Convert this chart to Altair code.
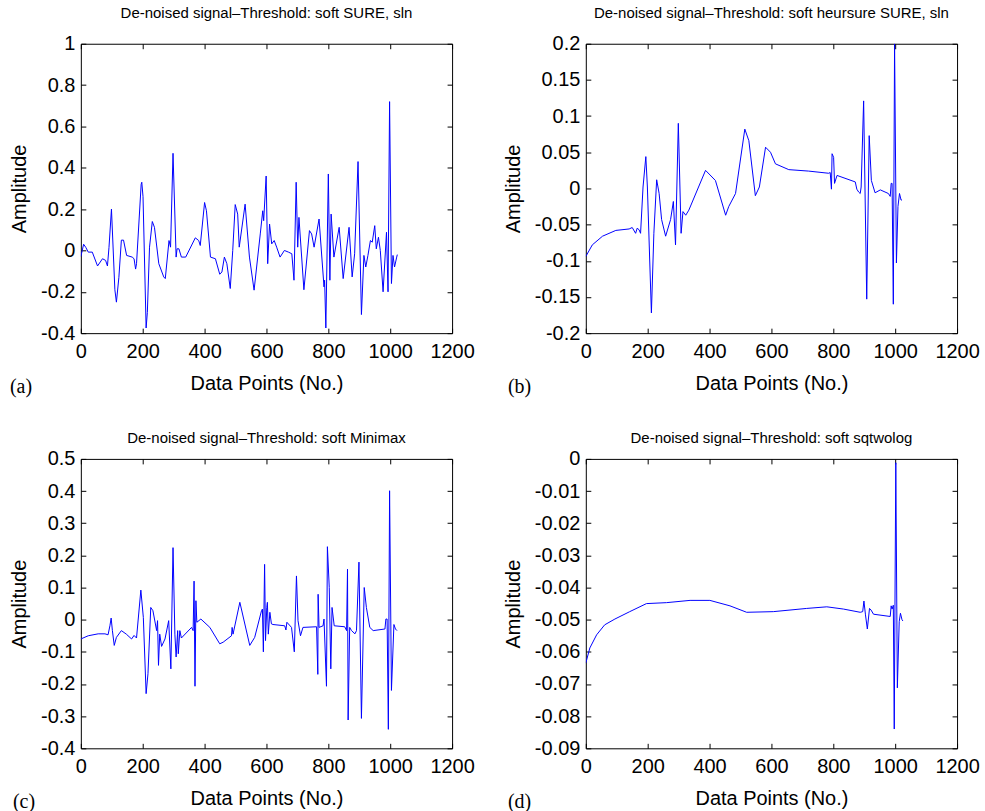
import altair as alt
import pandas as pd

# ---------------- data ----------------
a_x = [0, 9, 16, 24, 37, 54, 70, 80, 86, 91, 99, 110, 115, 123, 131, 138, 148, 166, 172, 177,
       180, 195, 197, 201, 211, 215, 222, 231, 238, 252, 268, 273, 285, 290, 298, 308, 311, 317,
       325, 339, 370, 381, 386, 400, 406, 419, 435, 449, 456, 464, 472, 483, 491, 499, 507, 512,
       531, 545, 560, 580, 588, 591, 599, 604, 610, 617, 625, 633, 644, 658, 671, 682, 689, 696,
       701, 705, 721, 739, 746, 754, 770, 786, 788, 792, 800, 805, 809, 818, 835, 848, 867, 877,
       885, 896, 907, 915, 921, 928, 936, 942, 950, 955, 962, 968, 977, 988, 993, 998, 1004,
       1009, 1014, 1021, 1023]
a_y = [-0.03, 0.03, 0.015, -0.008, -0.008, -0.075, -0.04, -0.048, -0.075, 0.015, 0.2, -0.19,
       -0.25, -0.13, 0.05, 0.05, -0.024, -0.032, -0.04, -0.09, -0.064, 0.32, 0.33, 0.26, -0.375,
       -0.3, 0.016, 0.14, 0.112, -0.064, -0.128, -0.136, 0.048, 0.016, 0.47, -0.032, 0.008, 0.008,
       -0.032, -0.032, 0.061, 0.048, 0.024, 0.232, 0.192, -0.032, -0.04, -0.115, -0.104, -0.032,
       -0.064, -0.184, 0.0, 0.222, 0.176, 0.016, 0.224, -0.032, -0.192, 0.08, 0.192, 0.144, 0.36,
       -0.064, 0.128, 0.032, 0.048, 0.016, -0.032, 0.0, -0.008, -0.016, -0.144, 0.33, 0.016, 0.16,
       -0.19, 0.096, 0.08, 0.016, 0.152, -0.176, -0.144, -0.375, 0.37, -0.144, 0.176, -0.032,
       0.112, -0.136, 0.112, -0.128, -0.016, 0.43, -0.31, -0.024, -0.08, -0.024, 0.048, 0.04,
       0.12, 0.008, 0.064, 0.0, -0.2, 0.088, -0.2, 0.72, -0.16, -0.024, -0.08, -0.032, -0.02]

b_x = [0, 21, 54, 97, 140, 150, 161, 166, 172, 177, 185, 194, 199, 212, 220, 229, 237, 245, 258,
       274, 283, 290, 299, 308, 314, 323, 333, 387, 419, 452, 462, 484, 514, 527, 548, 561, 581,
       597, 613, 656, 720, 785, 790, 794, 796, 801, 804, 812, 871, 876, 882, 887, 890, 898, 908,
       916, 923, 935, 952, 978, 984, 987, 990, 994, 998, 1004, 1009, 1014, 1019, 1022]
b_y = [-0.094, -0.078, -0.066, -0.058, -0.056, -0.054, -0.062, -0.055, -0.057, -0.062, 0.002,
       0.044, 0.002, -0.172, -0.062, 0.012, -0.007, -0.043, -0.066, -0.043, -0.018, -0.078, 0.09,
       -0.062, -0.032, -0.037, -0.03, 0.025, 0.011, -0.037, -0.025, -0.007, 0.082, 0.066, -0.01,
       0.002, 0.057, 0.05, 0.034, 0.026, 0.024, 0.021, 0.022, -0.001, 0.048, 0.043, 0.007, 0.018,
       0.009, -0.001, -0.005, -0.007, 0.002, 0.121, -0.153, 0.073, 0.011, -0.006, -0.002, -0.007,
       -0.011, 0.007, 0.007, -0.16, 0.2, -0.103, -0.025, -0.007, -0.016, -0.016]

c_x = [0, 24, 56, 78, 88, 94, 98, 102, 108, 115, 131, 147, 164, 172, 180, 194, 202, 211, 217,
       226, 233, 245, 248, 251, 255, 261, 272, 284, 291, 298, 304, 308, 313, 315, 320, 325, 358,
       363, 366, 369, 372, 375, 388, 417, 449, 460, 487, 489, 492, 514, 546, 562, 584, 587, 590,
       594, 597, 601, 603, 606, 611, 616, 621, 659, 663, 666, 681, 690, 697, 702, 710, 718, 762,
       766, 767, 770, 783, 786, 794, 797, 803, 808, 812, 819, 853, 859, 862, 864, 869, 875, 886,
       891, 899, 907, 916, 923, 934, 945, 983, 986, 990, 994, 998, 1004, 1012, 1017, 1022]
c_y = [-0.06, -0.05, -0.044, -0.044, -0.047, -0.019, 0.005, -0.034, -0.08, -0.055, -0.034,
       -0.045, -0.06, -0.049, -0.057, 0.092, 0.007, -0.23, -0.168, 0.038, 0.028, -0.034, -0.003,
       -0.142, -0.045, -0.083, -0.06, -0.003, -0.153, 0.224, -0.045, -0.116, -0.034, -0.106,
       -0.034, -0.057, -0.024, -0.034, 0.12, -0.207, 0.059, -0.008, 0.002, -0.024, -0.075, -0.07,
       -0.05, -0.024, -0.045, 0.054, -0.08, -0.055, 0.028, 0.033, -0.1, 0.172, -0.065, 0.038,
       0.054, -0.045, 0.023, -0.013, -0.015, -0.019, -0.032, -0.008, -0.024, -0.1, 0.136, -0.003,
       -0.05, -0.024, -0.022, -0.17, 0.079, -0.024, -0.019, 0.002, -0.207, 0.227, 0.1, -0.153,
       0.038, -0.019, -0.022, -0.034, 0.157, -0.312, -0.024, -0.034, -0.044, -0.034, 0.179,
       -0.307, 0.1, 0.038, -0.024, -0.034, -0.029, 0.002, 0.002, -0.341, 0.401, -0.22, -0.015,
       -0.029, -0.034]

d_x = [0, 13, 35, 61, 94, 142, 196, 261, 337, 401, 466, 520, 606, 714, 779, 833, 887, 895, 899,
       904, 910, 917, 922, 930, 984, 987, 990, 994, 997, 1002, 1007, 1013, 1017, 1022, 1025]
d_y = [-0.0635, -0.0588, -0.0547, -0.0516, -0.0498, -0.0475, -0.045, -0.0447, -0.044, -0.044,
       -0.0457, -0.0477, -0.0475, -0.0465, -0.046, -0.0467, -0.0477, -0.0475, -0.0442, -0.0485,
       -0.0529, -0.0465, -0.047, -0.0483, -0.049, -0.0457, -0.0467, -0.0455, -0.084, -0.0012,
       -0.0712, -0.0506, -0.048, -0.05, -0.0504]

x_ticks = [0, 200, 400, 600, 800, 1000, 1200]
a_yticks = [-0.4, -0.2, 0, 0.2, 0.4, 0.6, 0.8, 1]
b_yticks = [-0.2, -0.15, -0.1, -0.05, 0, 0.05, 0.1, 0.15, 0.2]
c_yticks = [-0.4, -0.3, -0.2, -0.1, 0, 0.1, 0.2, 0.3, 0.4, 0.5]
d_yticks = [-0.09, -0.08, -0.07, -0.06, -0.05, -0.04, -0.03, -0.02, -0.01, 0]

titles = ["De-noised signal\u2013Threshold: soft SURE, sln",
          "De-noised signal\u2013Threshold: soft heursure SURE, sln",
          "De-noised signal\u2013Threshold: soft Minimax",
          "De-noised signal\u2013Threshold: soft sqtwolog"]
tags = ["(a)", "(b)", "(c)", "(d)"]

# ---------------- styling ----------------
FONT = "Liberation Sans"
SERIF = "Liberation Serif"
W, H = 372, 290
TICK = 5
LABEL_EXPR = "'' + datum.value"


def panel(xs, ys, yticks, ydom, title, tag, tag_dx, title_offset):
    df = pd.DataFrame({"x": xs, "y": ys})
    xsc = alt.Scale(domain=[0, 1200], nice=False, zero=False)
    ysc = alt.Scale(domain=ydom, nice=False, zero=False)
    common = dict(offset=-TICK, tickSize=TICK, tickColor="black", tickWidth=1,
                  domain=False, grid=False)
    main = alt.Chart(df).mark_line(color="#0000ff", strokeWidth=1, clip=True).encode(
        x=alt.X("x:Q", scale=xsc, axis=alt.Axis(
            orient="bottom", values=x_ticks, labelExpr=LABEL_EXPR, labelFont=FONT,
            labelFontSize=20, labelColor="black", labelPadding=8, labelFlush=False,
            labelOverlap=False, title="Data Points (No.)", titleFont=FONT, titleFontSize=20,
            titleFontWeight="normal", titleColor="black", titlePadding=12, **common)),
        y=alt.Y("y:Q", scale=ysc, axis=alt.Axis(
            orient="left", values=yticks, labelExpr=LABEL_EXPR, labelFont=FONT,
            labelFontSize=20, labelColor="black", labelPadding=6, labelFlush=False,
            labelOverlap=False, title="Amplitude", titleFont=FONT, titleFontSize=20,
            titleFontWeight="normal", titleColor="black", titlePadding=11, **common)),
    )
    ghost = alt.Chart(df).mark_line(strokeOpacity=0).encode(
        x=alt.X("x:Q", scale=xsc, axis=alt.Axis(
            orient="top", values=x_ticks, labels=False, title=None, minExtent=0, **common)),
        y=alt.Y("y:Q", scale=ysc, axis=alt.Axis(
            orient="right", values=yticks, labels=False, title=None, minExtent=0, **common)),
    )
    tag_df = pd.DataFrame({"t": [tag]})
    lab = alt.Chart(tag_df).mark_text(font=SERIF, fontSize=20, align="left",
                                      baseline="middle", color="black").encode(
        text="t:N", x=alt.value(tag_dx), y=alt.value(H + 54))
    return alt.layer(main, ghost, lab).resolve_axis(
        x="independent", y="independent").properties(
        width=W, height=H,
        title=alt.TitleParams(title, font=FONT, fontSize=15, fontWeight="normal",
                              color="black", offset=title_offset))


pa = panel(a_x, a_y, a_yticks, [-0.4, 1], titles[0], tags[0], -71, 13)
pb = panel(b_x, b_y, b_yticks, [-0.2, 0.2], titles[1], tags[1], -78, 13)
pc = panel(c_x, c_y, c_yticks, [-0.4, 0.5], titles[2], tags[2], -68, 3)
pd_ = panel(d_x, d_y, d_yticks, [-0.09, 0], titles[3], tags[3], -78, 3)

chart = alt.concat(pa, pb, pc, pd_, columns=2, bounds="flush",
                   spacing=alt.RowColnumber(row=126, column=134)).properties(
    padding={"left": 9, "top": 4, "right": 5, "bottom": 5},
    background="white",
).configure_view(stroke="black", strokeWidth=1)

chart.save("out.html", embed_options={"renderer": "svg", "actions": False})
